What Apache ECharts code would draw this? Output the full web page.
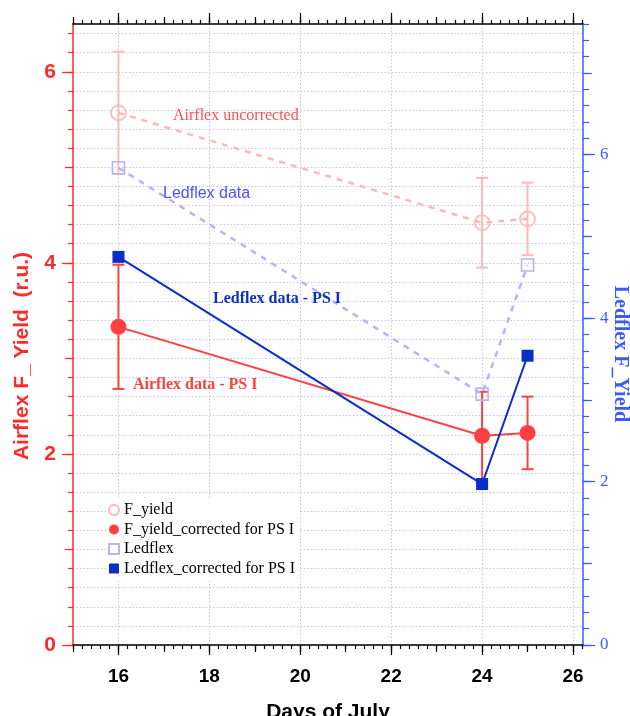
<!DOCTYPE html>
<html>
<head>
<meta charset="utf-8">
<script src="https://cdn.jsdelivr.net/npm/echarts@6/dist/echarts.min.js"></script>
<style>
html,body{margin:0;padding:0;background:#fff;}
#chart{width:630px;height:716px;}
</style>
</head>
<body>
<div id="chart"></div>
<script>
// ---- data ----
const days = [16, 24, 25];
const fYield = [5.57, 4.42, 4.46];
const fYieldErr = [0.64, 0.47, 0.38];
const fYieldCorr = [3.33, 2.19, 2.22];
const fYieldCorrErr = [0.65, 0.46, 0.38];
const ledflex = [5.84, 3.07, 4.65];
const ledflexCorr = [4.75, 1.97, 3.54];

const xMajorTicks = [16, 18, 20, 22, 24, 26];
const leftMajorTicks = [0, 2, 4, 6];
const rightMajorTicks = [0, 2, 4, 6];

function steps(a, b, s) {
  const out = [];
  for (let i = 0; a + i * s <= b + 1e-9; i++) out.push(Math.round((a + i * s) * 1000) / 1000);
  return out;
}
const xMidTicks = steps(15, 26, 1);
const xMinorTicks = steps(15, 26.2, 0.2);
const leftMidTicks = steps(0, 6, 1);
const leftMinorTicks = steps(0, 6.4, 0.2);
const rightMidTicks = steps(0, 7, 1);
const rightMinorTicks = steps(0, 7.6, 0.2);

const SANS = '"Liberation Sans", Arial, sans-serif';
const SERIF = '"Liberation Serif", "Times New Roman", serif';
const RED = '#ff2a2a';
const BLUE_AX = '#3a5cff';
const GRID = '#c4c4f4';

function zip(xs, ys, es) {
  return xs.map((x, i) => es ? [x, ys[i], es[i]] : [x, ys[i]]);
}

function xAx(pos, ticks, len, major) {
  return {
    type: 'value', position: pos, min: 15, max: 26.22,
    axisLine: { show: major, onZero: false, lineStyle: { color: '#000', width: 1.5 } },
    axisTick: { show: true, inside: false, length: len, customValues: ticks, lineStyle: { color: '#000', width: 1.2 } },
    axisLabel: (major && pos === 'bottom') ? {
      show: true, customValues: ticks, color: '#000', fontWeight: 'bold', fontSize: 19, fontFamily: SANS, margin: 22
    } : { show: false },
    splitLine: (major && pos === 'bottom') ? { show: true, lineStyle: { color: GRID, type: [1.5, 2], width: 1 } } : { show: false },
    name: (major && pos === 'bottom') ? 'Days of July' : '',
    nameLocation: 'middle', nameGap: 57,
    nameTextStyle: { color: '#000', fontWeight: 'bold', fontSize: 21, fontFamily: SANS }
  };
}
function yAx(pos, max, ticks, len, major, color, labelStyle, grid) {
  return {
    type: 'value', position: pos, min: 0, max: max,
    axisLine: { show: major, onZero: false, lineStyle: { color: color, width: 1.5 } },
    axisTick: { show: true, inside: false, length: len, customValues: ticks, lineStyle: { color: color, width: 1.2 } },
    axisLabel: major ? Object.assign({ show: true, customValues: ticks }, labelStyle) : { show: false },
    splitLine: grid ? { show: true, lineStyle: { color: GRID, type: [1.5, 2], width: 1 } } : { show: false }
  };
}

function errBar(color) {
  return function (params, api) {
    const x = api.value(0), y = api.value(1), e = api.value(2);
    const top = api.coord([x, y + e]);
    const bot = api.coord([x, y - e]);
    const cw = 6;
    const st = { stroke: color, lineWidth: 2 };
    return {
      type: 'group',
      children: [
        { type: 'line', shape: { x1: top[0], y1: top[1], x2: bot[0], y2: bot[1] }, style: st },
        { type: 'line', shape: { x1: top[0] - cw, y1: top[1], x2: top[0] + cw, y2: top[1] }, style: st },
        { type: 'line', shape: { x1: bot[0] - cw, y1: bot[1], x2: bot[0] + cw, y2: bot[1] }, style: st }
      ]
    };
  };
}

const PINK = '#ffb8b8';
const LAV = '#b4b4f6';
const RED_S = '#ff4040';
const NAVY = '#0a2ec8';

const chart = echarts.init(document.getElementById('chart'), null, { renderer: 'canvas' });
chart.setOption({
  animation: false,
  backgroundColor: '#fff',
  grid: { left: 73, right: 47, top: 24, bottom: 71, containLabel: false, outerBoundsMode: 'none' },
  xAxis: [
    xAx('bottom', xMajorTicks, 10, true),
    xAx('bottom', xMidTicks, 7, false),
    xAx('bottom', xMinorTicks, 4, false),
    xAx('top', xMajorTicks, 11, true),
    xAx('top', xMidTicks, 7, false),
    xAx('top', xMinorTicks, 4, false)
  ],
  yAxis: [
    yAx('left', 6.5, leftMajorTicks, 11, true, RED, { color: RED, fontWeight: 'bold', fontSize: 21, fontFamily: SANS, margin: 17 }, false),
    yAx('left', 6.5, leftMidTicks, 8, false, RED, null, false),
    yAx('left', 6.5, leftMinorTicks, 5, false, RED, null, true),
    yAx('right', 7.6, rightMajorTicks, 12, true, BLUE_AX, { color: BLUE_AX, fontSize: 17, fontFamily: SERIF, margin: 17 }, false),
    yAx('right', 7.6, rightMidTicks, 9, false, BLUE_AX, null, false),
    yAx('right', 7.6, rightMinorTicks, 6, false, BLUE_AX, null, false)
  ],
  legend: {
    left: 108, top: 498, orient: 'vertical',
    backgroundColor: '#fff', padding: [4, 4, 4, 0],
    itemWidth: 10, itemHeight: 10, itemGap: 3.5,
    textStyle: { fontFamily: SERIF, fontSize: 16, color: '#000' },
    data: [
      { name: 'F_yield', icon: 'circle' },
      { name: 'F_yield_corrected for PS I', icon: 'circle' },
      { name: 'Ledflex', icon: 'rect' },
      { name: 'Ledflex_corrected for PS I', icon: 'rect' }
    ]
  },
  graphic: [
    { type: 'text', x: 22, y: 356, rotation: Math.PI / 2, z: 10,
      style: { text: 'Airflex F_ Yield  (r.u.)', font: 'bold 21px ' + SANS, fill: RED, align: 'center', verticalAlign: 'middle' } },
    { type: 'text', x: 620, y: 354, rotation: -Math.PI / 2, z: 10,
      style: { text: 'Ledflex F_Yield', font: 'bold 20px ' + SERIF, fill: BLUE_AX, align: 'center', verticalAlign: 'middle' } },
    { type: 'text', x: 173, y: 116, z: 10,
      style: { text: 'Airflex uncorrected', font: '16px ' + SERIF, fill: '#ff5050', align: 'left', verticalAlign: 'middle' } },
    { type: 'text', x: 163, y: 194, z: 10,
      style: { text: 'Ledflex data', font: '16px ' + SANS, fill: '#5050ff', align: 'left', verticalAlign: 'middle' } },
    { type: 'text', x: 213, y: 299, z: 10,
      style: { text: 'Ledflex data - PS I', font: 'bold 16px ' + SERIF, fill: '#1030c0', align: 'left', verticalAlign: 'middle' } },
    { type: 'text', x: 133, y: 385, z: 10,
      style: { text: 'Airflex data - PS I', font: 'bold 16px ' + SERIF, fill: RED_S, align: 'left', verticalAlign: 'middle' } }
  ],
  series: [
    { type: 'custom', name: 'errU', xAxisIndex: 0, yAxisIndex: 0, z: 2,
      renderItem: errBar(PINK), data: zip(days, fYield, fYieldErr) },
    { type: 'custom', name: 'errC', xAxisIndex: 0, yAxisIndex: 0, z: 3,
      renderItem: errBar(RED_S), data: zip(days, fYieldCorr, fYieldCorrErr) },
    { type: 'line', name: 'F_yield', xAxisIndex: 0, yAxisIndex: 0, z: 4,
      data: zip(days, fYield), symbol: 'circle', symbolSize: 15,
      lineStyle: { color: PINK, width: 2.5, type: [6, 6] },
      itemStyle: { color: 'rgba(255,255,255,0)', borderColor: PINK, borderWidth: 1.6 } },
    { type: 'line', name: 'Ledflex', xAxisIndex: 0, yAxisIndex: 3, z: 4,
      data: zip(days, ledflex), symbol: 'rect', symbolSize: 12,
      lineStyle: { color: LAV, width: 2.5, type: [6, 6] },
      itemStyle: { color: 'rgba(255,255,255,0)', borderColor: LAV, borderWidth: 1.6 } },
    { type: 'line', name: 'F_yield_corrected for PS I', xAxisIndex: 0, yAxisIndex: 0, z: 5,
      data: zip(days, fYieldCorr), symbol: 'circle', symbolSize: 16,
      lineStyle: { color: RED_S, width: 2 },
      itemStyle: { color: RED_S } },
    { type: 'line', name: 'Ledflex_corrected for PS I', xAxisIndex: 0, yAxisIndex: 3, z: 6,
      data: zip(days, ledflexCorr), symbol: 'rect', symbolSize: 12,
      lineStyle: { color: NAVY, width: 2 },
      itemStyle: { color: NAVY } }
  ]
});
</script>
</body>
</html>
